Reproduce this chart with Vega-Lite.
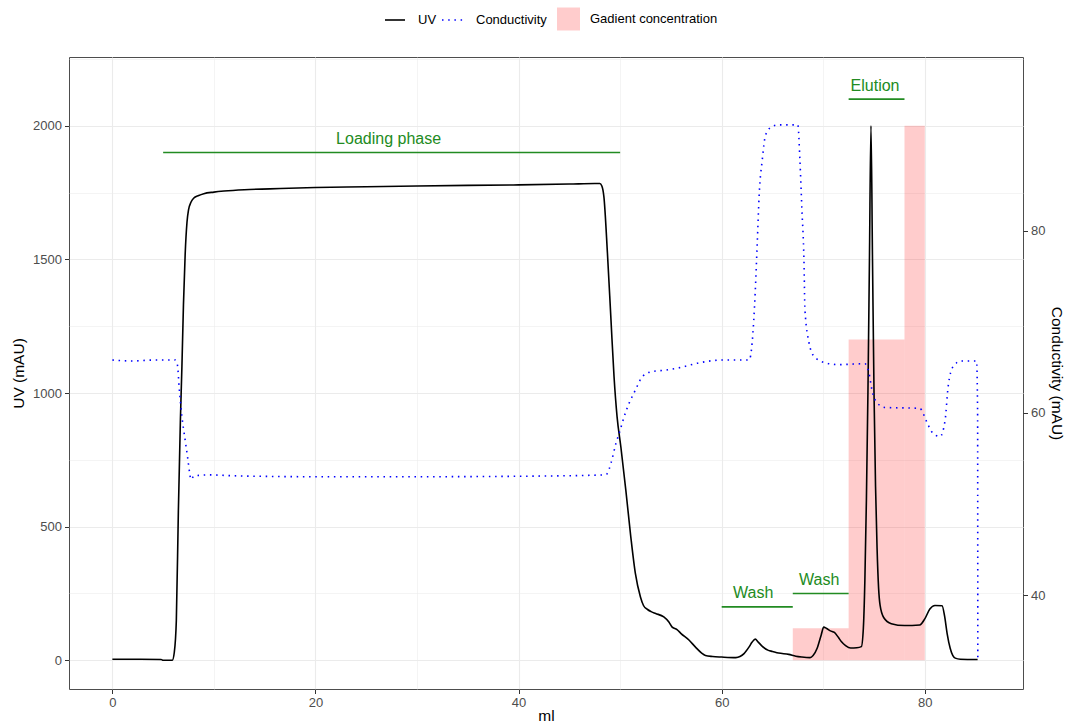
{
  "$schema": "https://vega.github.io/schema/vega-lite/v6.json",
  "width": 954,
  "height": 632,
  "autosize": {"type": "none"},
  "padding": {"left": 69, "top": 57, "right": 42, "bottom": 36},
  "background": "white",
  "config": {
    "font": "Liberation Sans",
    "view": {"stroke": "#4d4d4d", "strokeWidth": 1},
    "axis": {
      "domain": false,
      "labelFont": "Liberation Sans",
      "labelFontSize": 13,
      "labelColor": "#4d4d4d",
      "tickColor": "#333333",
      "tickSize": 4.5,
      "labelPadding": 3,
      "titleFont": "Liberation Sans",
      "titleFontSize": 15.5,
      "titleFontWeight": "normal",
      "titleColor": "#000000"
    },
    "legend": {
      "labelFont": "Liberation Sans",
      "labelFontSize": 13,
      "labelColor": "#000000",
      "labelOffset": 10
    }
  },
  "datasets": {
    "gradient": [
      {"ml": 67, "ml_end": 72.5, "uv": 120},
      {"ml": 72.5, "ml_end": 78, "uv": 1200},
      {"ml": 78, "ml_end": 80, "uv": 2000}
    ],
    "phases": [
      {"ml": 5, "ml_end": 50, "uv": 1900},
      {"ml": 72.5, "ml_end": 78, "uv": 2100},
      {"ml": 60, "ml_end": 67, "uv": 200},
      {"ml": 67, "ml_end": 72.5, "uv": 250}
    ],
    "labels": [
      {"ml": 27.2, "uv": 1950, "label": "Loading phase"},
      {"ml": 75.1, "uv": 2150, "label": "Elution"},
      {"ml": 63.1, "uv": 250, "label": "Wash"},
      {"ml": 69.6, "uv": 300, "label": "Wash"}
    ],
    "uv": [
      {"ml": 0, "uv": 4}, {"ml": 2, "uv": 4}, {"ml": 4.8, "uv": 3}, {"ml": 5.0, "uv": 0},
      {"ml": 5.9, "uv": 0}, {"ml": 6.1, "uv": 30}, {"ml": 6.3, "uv": 150}, {"ml": 6.5, "uv": 560},
      {"ml": 6.7, "uv": 900}, {"ml": 6.85, "uv": 1100}, {"ml": 7.0, "uv": 1330}, {"ml": 7.17, "uv": 1520},
      {"ml": 7.35, "uv": 1640}, {"ml": 7.5, "uv": 1685}, {"ml": 7.75, "uv": 1715}, {"ml": 8.0, "uv": 1729},
      {"ml": 8.5, "uv": 1739}, {"ml": 9.0, "uv": 1746}, {"ml": 10, "uv": 1752}, {"ml": 11, "uv": 1756},
      {"ml": 13, "uv": 1761}, {"ml": 15.5, "uv": 1764}, {"ml": 20, "uv": 1769}, {"ml": 25, "uv": 1772},
      {"ml": 30, "uv": 1775}, {"ml": 35, "uv": 1777}, {"ml": 40, "uv": 1779}, {"ml": 45, "uv": 1782},
      {"ml": 47.5, "uv": 1784}, {"ml": 48.0, "uv": 1784}, {"ml": 48.2, "uv": 1775}, {"ml": 48.4, "uv": 1735},
      {"ml": 48.75, "uv": 1523}, {"ml": 49.1, "uv": 1273}, {"ml": 49.4, "uv": 1061}, {"ml": 49.7, "uv": 911},
      {"ml": 50.07, "uv": 799}, {"ml": 50.56, "uv": 637}, {"ml": 51.05, "uv": 462}, {"ml": 51.5, "uv": 325},
      {"ml": 52.0, "uv": 237}, {"ml": 52.3, "uv": 205}, {"ml": 52.7, "uv": 190}, {"ml": 53.1, "uv": 181},
      {"ml": 53.5, "uv": 175}, {"ml": 54.3, "uv": 162}, {"ml": 54.8, "uv": 143}, {"ml": 55.1, "uv": 125},
      {"ml": 55.6, "uv": 115}, {"ml": 56.0, "uv": 100}, {"ml": 56.8, "uv": 75}, {"ml": 57.4, "uv": 50},
      {"ml": 58.0, "uv": 28}, {"ml": 58.4, "uv": 18}, {"ml": 59.1, "uv": 14}, {"ml": 60, "uv": 12},
      {"ml": 61.4, "uv": 10}, {"ml": 61.8, "uv": 14}, {"ml": 62.2, "uv": 25}, {"ml": 62.7, "uv": 50},
      {"ml": 63.0, "uv": 68}, {"ml": 63.3, "uv": 79}, {"ml": 63.6, "uv": 68}, {"ml": 64.0, "uv": 52},
      {"ml": 64.6, "uv": 37}, {"ml": 65.0, "uv": 33}, {"ml": 65.6, "uv": 27}, {"ml": 66.6, "uv": 22},
      {"ml": 67.3, "uv": 15}, {"ml": 67.9, "uv": 12}, {"ml": 68.7, "uv": 10}, {"ml": 69.0, "uv": 18},
      {"ml": 69.4, "uv": 45}, {"ml": 69.8, "uv": 95}, {"ml": 70.05, "uv": 124}, {"ml": 70.3, "uv": 120},
      {"ml": 70.7, "uv": 110}, {"ml": 71.1, "uv": 104}, {"ml": 71.5, "uv": 85}, {"ml": 71.8, "uv": 69},
      {"ml": 72.2, "uv": 55}, {"ml": 72.7, "uv": 46}, {"ml": 73.3, "uv": 47}, {"ml": 73.75, "uv": 51},
      {"ml": 73.95, "uv": 120}, {"ml": 74.1, "uv": 300}, {"ml": 74.25, "uv": 600}, {"ml": 74.4, "uv": 1000},
      {"ml": 74.55, "uv": 1500}, {"ml": 74.7, "uv": 2000}, {"ml": 74.85, "uv": 1500}, {"ml": 75.0, "uv": 1000},
      {"ml": 75.15, "uv": 650}, {"ml": 75.3, "uv": 420}, {"ml": 75.45, "uv": 270}, {"ml": 75.6, "uv": 205},
      {"ml": 75.95, "uv": 160}, {"ml": 76.7, "uv": 137}, {"ml": 78.0, "uv": 130}, {"ml": 79.5, "uv": 132},
      {"ml": 80.0, "uv": 155}, {"ml": 80.5, "uv": 192}, {"ml": 81.0, "uv": 205}, {"ml": 81.7, "uv": 204},
      {"ml": 81.95, "uv": 165}, {"ml": 82.2, "uv": 100}, {"ml": 82.5, "uv": 45}, {"ml": 83.0, "uv": 8},
      {"ml": 83.5, "uv": 4}, {"ml": 85.2, "uv": 3}
    ],
    "conductivity": [
      {"ml": 0, "conductivity": 65.8}, {"ml": 2, "conductivity": 65.7}, {"ml": 4, "conductivity": 65.8},
      {"ml": 6.2, "conductivity": 65.8}, {"ml": 6.4, "conductivity": 65.3}, {"ml": 6.6, "conductivity": 62.5},
      {"ml": 6.85, "conductivity": 59.6}, {"ml": 7.17, "conductivity": 57.0}, {"ml": 7.4, "conductivity": 55.2},
      {"ml": 7.6, "conductivity": 53.5}, {"ml": 7.73, "conductivity": 52.7}, {"ml": 8.05, "conductivity": 53.1},
      {"ml": 9.6, "conductivity": 53.2}, {"ml": 12, "conductivity": 53.1}, {"ml": 20, "conductivity": 53.0},
      {"ml": 30, "conductivity": 53.0}, {"ml": 40, "conductivity": 53.05}, {"ml": 48.5, "conductivity": 53.2},
      {"ml": 48.7, "conductivity": 53.3}, {"ml": 49.1, "conductivity": 54.5}, {"ml": 49.6, "conductivity": 56.7},
      {"ml": 50.0, "conductivity": 58.1}, {"ml": 50.4, "conductivity": 59.6}, {"ml": 50.9, "conductivity": 61.1},
      {"ml": 51.5, "conductivity": 62.5}, {"ml": 52.2, "conductivity": 64.0}, {"ml": 53.0, "conductivity": 64.5},
      {"ml": 54.5, "conductivity": 64.7}, {"ml": 55.6, "conductivity": 64.9}, {"ml": 57.8, "conductivity": 65.5},
      {"ml": 60.0, "conductivity": 65.8}, {"ml": 62.7, "conductivity": 65.8}, {"ml": 63.0, "conductivity": 67.7},
      {"ml": 63.3, "conductivity": 73.2}, {"ml": 63.5, "conductivity": 78.6}, {"ml": 63.7, "conductivity": 84.1},
      {"ml": 64.0, "conductivity": 87.8}, {"ml": 64.3, "conductivity": 90.4}, {"ml": 64.8, "conductivity": 91.3},
      {"ml": 65.6, "conductivity": 91.6}, {"ml": 67.5, "conductivity": 91.6}, {"ml": 67.7, "conductivity": 87.8},
      {"ml": 67.9, "conductivity": 82.3}, {"ml": 68.1, "conductivity": 76.8}, {"ml": 68.2, "conductivity": 71.3},
      {"ml": 68.6, "conductivity": 67.7}, {"ml": 69.1, "conductivity": 66.2}, {"ml": 70.2, "conductivity": 65.5},
      {"ml": 71.5, "conductivity": 65.3}, {"ml": 74.1, "conductivity": 65.4}, {"ml": 74.5, "conductivity": 64.4},
      {"ml": 74.8, "conductivity": 62.5}, {"ml": 75.3, "conductivity": 61.1}, {"ml": 76.1, "conductivity": 60.6},
      {"ml": 79.5, "conductivity": 60.5}, {"ml": 80.2, "conductivity": 59.0}, {"ml": 80.7, "conductivity": 57.9},
      {"ml": 81.5, "conductivity": 57.4}, {"ml": 82.0, "conductivity": 59.2}, {"ml": 82.3, "conductivity": 62.9},
      {"ml": 82.8, "conductivity": 65.1}, {"ml": 83.6, "conductivity": 65.7}, {"ml": 85.1, "conductivity": 65.7},
      {"ml": 85.2, "conductivity": 60.0}, {"ml": 85.22, "conductivity": 32.9}
    ]
  },
  "encoding": {
    "x": {
      "field": "ml",
      "type": "quantitative",
      "scale": {"domain": [-4.27, 89.67], "nice": false, "zero": false},
      "axis": {
        "title": "ml",
        "values": [0, 10, 20, 30, 40, 50, 60, 70, 80],
        "labelExpr": "datum.value % 20 === 0 ? datum.label : ''",
        "tickOpacity": {"condition": {"test": "datum.value % 20 === 0", "value": 1}, "value": 0},
        "gridColor": "#ebebeb",
        "gridWidth": {"condition": {"test": "datum.value % 20 === 0", "value": 1.1}, "value": 0.55},
        "titlePadding": -1.5
      }
    }
  },
  "layer": [
    {
      "encoding": {
        "y": {
          "field": "uv",
          "type": "quantitative",
          "scale": {"domain": [-107.5, 2257.5], "nice": false, "zero": false},
          "axis": {
            "title": "UV (mAU)",
            "values": [0, 250, 500, 750, 1000, 1250, 1500, 1750, 2000, 2250],
            "format": "d",
            "labelExpr": "datum.value % 500 === 0 ? datum.label : ''",
            "tickOpacity": {"condition": {"test": "datum.value % 500 === 0", "value": 1}, "value": 0},
            "gridColor": "#ebebeb",
            "gridWidth": {"condition": {"test": "datum.value % 500 === 0", "value": 1.1}, "value": 0.55},
            "titlePadding": 6
          }
        }
      },
      "layer": [
        {
          "data": {"name": "gradient"},
          "mark": {"type": "rect", "opacity": 0.2},
          "encoding": {
            "x2": {"field": "ml_end"},
            "y2": {"datum": 0},
            "fill": {
              "datum": "Gadient concentration",
              "type": "nominal",
              "scale": {"domain": ["Gadient concentration"], "range": ["red"]},
              "legend": {
                "title": null,
                "orient": "none",
                "legendX": 488,
                "legendY": -49.5,
                "symbolType": "square",
                "symbolSize": 529,
                "symbolStrokeWidth": 0,
                "labelOffset": 10
              }
            }
          }
        },
        {
          "data": {"name": "uv"},
          "mark": {"type": "line", "strokeWidth": 1.6, "interpolate": "monotone"},
          "encoding": {
            "color": {
              "datum": "UV",
              "type": "nominal",
              "scale": {"domain": ["UV"], "range": ["black"]},
              "legend": {
                "title": null,
                "orient": "none",
                "legendX": 315,
                "legendY": -48,
                "symbolSize": 400,
                "symbolStrokeWidth": 1.6,
                "labelOffset": 12
              }
            }
          }
        },
        {
          "data": {"name": "phases"},
          "mark": {"type": "rule", "color": "#228b22", "strokeWidth": 1.6},
          "encoding": {
            "x2": {"field": "ml_end"}
          }
        },
        {
          "data": {"name": "labels"},
          "mark": {"type": "text", "color": "#228b22", "fontSize": 16, "font": "Liberation Sans", "align": "center", "baseline": "middle"},
          "encoding": {
            "text": {"field": "label", "type": "nominal"}
          }
        }
      ]
    },
    {
      "data": {"name": "conductivity"},
      "mark": {"type": "line", "strokeWidth": 1.6, "color": "blue", "interpolate": "monotone"},
      "encoding": {
        "y": {
          "field": "conductivity",
          "type": "quantitative",
          "scale": {"domain": [29.71, 99.05], "nice": false, "zero": false},
          "axis": {
            "orient": "right",
            "title": "Conductivity (mAU)",
            "values": [40, 60, 80],
            "grid": false,
            "titlePadding": 4
          }
        },
        "strokeDash": {
          "datum": "Conductivity",
          "type": "nominal",
          "scale": {"domain": ["Conductivity"], "range": [[1.5, 4.7]]},
          "legend": {
            "title": null,
            "orient": "none",
            "legendX": 372,
            "legendY": -49.5,
            "symbolSize": 529,
            "symbolStrokeColor": "blue",
            "symbolStrokeWidth": 1.6,
            "symbolType": "stroke",
            "labelOffset": 10
          }
        }
      }
    }
  ],
  "resolve": {"scale": {"y": "independent"}}
}
